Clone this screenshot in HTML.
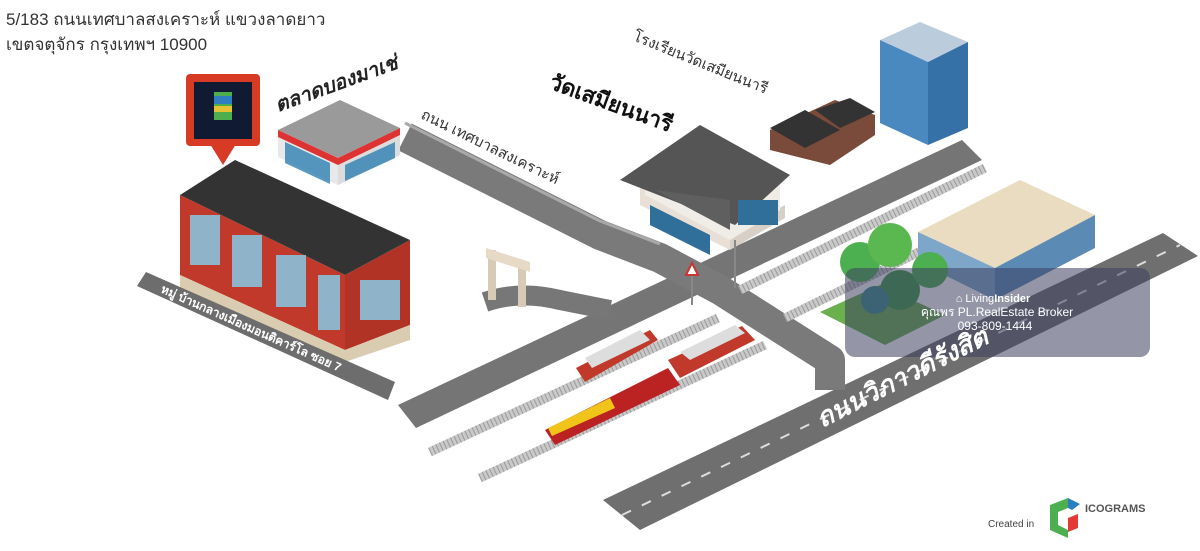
<!DOCTYPE html>
<html><head><meta charset="utf-8"><style>
html,body{margin:0;padding:0;background:#fff;width:1200px;height:551px;overflow:hidden}
svg{display:block}
text{font-family:"Liberation Sans","Noto Sans CJK SC",sans-serif}
</style></head><body>
<svg width="1200" height="551" viewBox="0 0 1200 551" xmlns="http://www.w3.org/2000/svg">
<rect width="1200" height="551" fill="#fff"/>
<polygon points="603,500 1163,233 1198,256 640,530" fill="#6f6f6f"/>
<line x1="622" y1="515" x2="1180" y2="245" stroke="#ddd" stroke-width="2" stroke-dasharray="10 12"/>
<polygon points="398,405 962,140 982,160 416,428" fill="#757575"/>
<polyline points="405,137 600,235 660,258 720,290 830,360 830,390" fill="none" stroke="#7a7a7a" stroke-width="30" stroke-linejoin="round"/>
<polyline points="405,123 600,221 660,244" fill="none" stroke="#a9a9a9" stroke-width="3"/>
<path d="M485,302 Q520,290 560,300 L610,310" fill="none" stroke="#777" stroke-width="20"/>
<g stroke="#c9c9c9" stroke-width="9">
<line x1="430" y1="452" x2="718" y2="318"/>
<line x1="480" y1="478" x2="765" y2="345"/>
<line x1="740" y1="290" x2="985" y2="168"/>
<line x1="785" y1="318" x2="1000" y2="212"/>
</g>
<g stroke="#999" stroke-width="9" stroke-dasharray="1 3">
<line x1="430" y1="452" x2="718" y2="318"/>
<line x1="480" y1="478" x2="765" y2="345"/>
<line x1="740" y1="290" x2="985" y2="168"/>
<line x1="785" y1="318" x2="1000" y2="212"/>
</g>
<!-- townhouses -->
<polygon points="180,195 345,275 345,350 180,275" fill="#c0392b"/>
<polygon points="345,275 410,240 410,325 345,350" fill="#b03325"/>
<polygon points="180,195 235,160 410,240 345,275" fill="#333"/>
<polygon points="180,275 345,350 410,325 410,340 345,362 180,288" fill="#d9ccb0"/>
<g fill="#8fb3c9">
<rect x="190" y="215" width="30" height="50"/><rect x="232" y="235" width="30" height="52"/><rect x="276" y="255" width="30" height="52"/><rect x="318" y="275" width="22" height="55"/>
<rect x="360" y="280" width="40" height="40"/>
</g>
<!-- soi 7 band -->
<polygon points="137,286 146,272 395,382 388,400" fill="#6d6d6d"/>
<text transform="translate(160,292) rotate(24)" font-size="12" font-weight="bold" fill="#fff">หมู่ บ้านกลางเมืองมอนติคาร์โล ซอย 7</text>
<!-- marker -->
<rect x="186" y="74" width="74" height="72" rx="4" fill="#d73a25"/>
<polygon points="210,144 236,144 223,165" fill="#d73a25"/>
<rect x="194" y="82" width="58" height="57" fill="#111a33"/>
<rect x="214" y="92" width="18" height="28" fill="#4cae4c"/><rect x="214" y="96" width="18" height="8" fill="#2f7ec1"/><rect x="214" y="106" width="18" height="6" fill="#e5c234"/>
<!-- market -->
<polygon points="278,130 340,100 400,128 338,158" fill="#9a9a9a"/>
<polygon points="278,130 338,158 338,185 278,157" fill="#e8e8e8"/>
<polygon points="338,158 400,128 400,155 338,185" fill="#dcdcdc"/>
<polygon points="278,130 338,158 400,128 400,135 338,165 278,137" fill="#d33"/>
<polygon points="285,142 330,163 330,184 285,163" fill="#2d7fb0" opacity=".8"/>
<polygon points="345,165 395,142 395,158 345,181" fill="#2d7fb0" opacity=".8"/>
<!-- temple -->
<polygon points="640,185 730,235 730,250 640,205" fill="#e8e0d6"/>
<polygon points="730,235 785,205 785,218 730,250" fill="#d8d0c6"/>
<polygon points="645,195 730,240 780,210 780,180 700,140 645,170" fill="#f0ece6"/>
<polygon points="620,180 700,125 790,175 735,225" fill="#555"/>
<polygon points="655,190 730,230 730,200" fill="#5f5f5f"/>
<polygon points="650,205 710,235 710,255 650,225" fill="#2f6f9a"/>
<rect x="738" y="200" width="40" height="25" fill="#2f6f9a"/>
<!-- school -->
<polygon points="770,130 835,100 875,115 875,135 830,165 770,150" fill="#7a4a3a"/>
<polygon points="770,128 805,110 840,130 805,148" fill="#333"/>
<polygon points="815,110 850,98 875,112 840,128" fill="#333"/>
<!-- tower -->
<polygon points="880,40 920,22 968,42 928,62" fill="#bcd"/>
<polygon points="880,40 928,62 928,145 880,123" fill="#4a88c0"/>
<polygon points="928,62 968,42 968,128 928,145" fill="#3570a6"/>
<!-- office -->
<polygon points="918,232 1020,180 1095,215 995,268" fill="#e9dcc0"/>
<polygon points="918,232 995,268 995,300 918,262" fill="#7ea6c8"/>
<polygon points="995,268 1095,215 1095,248 995,300" fill="#5b8ab5"/>
<!-- park -->
<polygon points="820,312 880,285 945,315 885,345" fill="#6ab04c"/>
<circle cx="860" cy="262" r="20" fill="#4caf50"/><circle cx="890" cy="245" r="22" fill="#5bb851"/><circle cx="900" cy="290" r="20" fill="#3e9a43"/><circle cx="930" cy="270" r="18" fill="#4caf50"/><circle cx="875" cy="300" r="14" fill="#3a8f8a"/>
<!-- arch -->
<rect x="488" y="250" width="8" height="50" fill="#d8cbb5"/><rect x="518" y="262" width="8" height="45" fill="#d8cbb5"/><polygon points="486,248 530,262 530,272 486,258" fill="#e6dac6"/>
<line x1="692" y1="275" x2="692" y2="305" stroke="#888" stroke-width="2"/><polygon points="686,275 698,275 692,263" fill="#fff" stroke="#c33" stroke-width="2"/>
<line x1="735" y1="240" x2="735" y2="288" stroke="#888" stroke-width="2"/>
<!-- trains -->
<polygon points="576,368 650,330 658,340 585,382" fill="#c0392b"/>
<polygon points="585,358 640,330 650,340 592,368" fill="#ddd"/>
<polygon points="668,360 742,326 755,340 680,378" fill="#c0392b"/>
<polygon points="680,352 735,325 745,333 690,360" fill="#ddd"/>
<polygon points="545,430 668,368 680,385 555,445" fill="#b22"/>
<polygon points="548,428 610,398 615,408 552,436" fill="#f0c419"/>
<!-- overlay -->
<rect x="845" y="268" width="305" height="89" rx="10" fill="#3c3f60" opacity=".55"/>
<text x="993" y="302" font-size="11" fill="#fff" text-anchor="middle">⌂ Living<tspan font-weight="bold">Insider</tspan></text>
<text x="997" y="316" font-size="12" fill="#fff" text-anchor="middle">คุณพร PL.RealEstate Broker</text>
<text x="995" y="330" font-size="12" fill="#fff" text-anchor="middle">093-809-1444</text>
<!-- labels -->
<text x="6" y="25" font-size="17" fill="#333">5/183 ถนนเทศบาลสงเคราะห์ แขวงลาดยาว</text>
<text x="6" y="50" font-size="17" fill="#333">เขตจตุจักร กรุงเทพฯ 10900</text>
<text transform="translate(278,112) rotate(-20)" font-size="20" font-weight="bold" font-style="italic" fill="#222">ตลาดบองมาเช่</text>
<text transform="translate(420,118) rotate(26)" font-size="15" fill="#333">ถนน เทศบาลสงเคราะห์</text>
<text transform="translate(548,88) rotate(20)" font-size="22" font-weight="bold" fill="#111">วัดเสมียนนารี</text>
<text transform="translate(632,40) rotate(22)" font-size="15" fill="#333">โรงเรียนวัดเสมียนนารี</text>
<text transform="translate(822,428) rotate(-27)" font-size="26" font-weight="bold" font-style="italic" fill="#fff">ถนนวิภาวดีรังสิต</text>
<text x="988" y="527" font-size="10" fill="#444">Created in</text>
<polygon points="1050,505 1068,498 1068,508 1058,512 1058,525 1068,530 1068,538 1050,530" fill="#4caf50"/>
<polygon points="1068,498 1080,504 1072,510 1068,508" fill="#2a7fc1"/>
<polygon points="1068,518 1078,514 1078,528 1068,532" fill="#e53935"/>
<text x="1085" y="512" font-size="11" font-weight="bold" fill="#555">ICOGRAMS</text>
</svg>
</body></html>
